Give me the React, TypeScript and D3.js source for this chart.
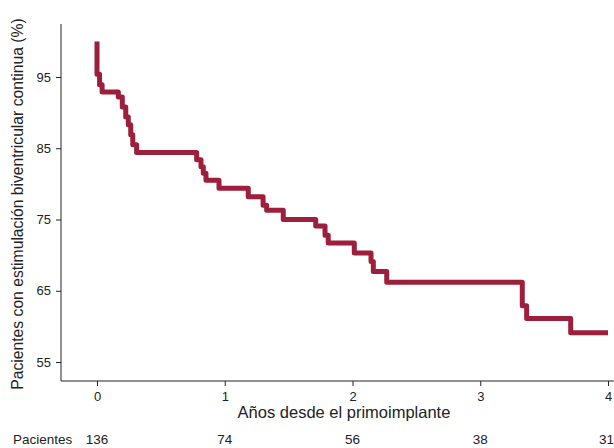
import React, { useEffect, useRef } from "react";
import * as d3 from "d3";

// Kaplan-Meier steps
const times = [0, 0, 0.02, 0.04, 0.167, 0.198, 0.225, 0.245, 0.264, 0.28, 0.31, 0.78, 0.814, 0.832, 0.853, 0.955, 1.184, 1.3, 1.328, 1.458, 1.712, 1.785, 1.81, 2.014, 2.145, 2.163, 2.268, 3.329, 3.363, 3.708, 4.0];
const survival = [100, 95.4, 93.9, 92.9, 92.2, 90.8, 89.4, 88.3, 86.9, 85.5, 84.4, 83.4, 82.4, 81.5, 80.5, 79.4, 78.2, 77.0, 76.3, 75.0, 74.1, 72.8, 71.7, 70.3, 69.1, 67.7, 66.2, 62.9, 61.1, 59.1, 59.1];

const xTicks = [0, 1, 2, 3, 4];
const yTicks = [55, 65, 75, 85, 95];
const atRisk = [136, 74, 56, 38, 31];

const App = () => {
    const svgRef = useRef<SVGSVGElement>(null);

    useEffect(() => {
        const width = 614, height = 448;
        const svg = d3.select(svgRef.current)
            .attr("width", width)
            .attr("height", height);
        svg.selectAll("*").remove();

        const font = "Liberation Sans, Arial, sans-serif";
        const x = d3.scaleLinear().domain([0, 4]).range([97, 608]);
        const y = d3.scaleLinear().domain([55, 95]).range([362, 77]);
        const axisY = 381, axisX = 61;

        // axis lines
        svg.append("line")
            .attr("x1", axisX).attr("x2", width)
            .attr("y1", axisY).attr("y2", axisY)
            .attr("stroke", "#222").attr("stroke-width", 1);
        svg.append("line")
            .attr("x1", axisX).attr("x2", axisX)
            .attr("y1", 24).attr("y2", axisY)
            .attr("stroke", "#222").attr("stroke-width", 1);

        const gx = svg.append("g")
            .attr("transform", `translate(0, ${axisY})`)
            .call(d3.axisBottom(x).tickValues(xTicks).tickSize(5).tickSizeOuter(0).tickFormat(d3.format("d")));
        gx.select(".domain").remove();
        gx.selectAll("text").attr("font-family", font).attr("font-size", 13).attr("fill", "#222").attr("dy", "0.9em");
        gx.selectAll("line").attr("stroke", "#222");

        const gy = svg.append("g")
            .attr("transform", `translate(${axisX}, 0)`)
            .call(d3.axisLeft(y).tickValues(yTicks).tickSize(5).tickSizeOuter(0));
        gy.select(".domain").remove();
        gy.selectAll("text").attr("font-family", font).attr("font-size", 13).attr("fill", "#222").attr("x", -10);
        gy.selectAll("line").attr("stroke", "#222");

        const pts = times.map((t, i) => [t, survival[i]] as [number, number]);
        const line = d3.line<[number, number]>()
            .x(d => x(d[0]))
            .y(d => y(d[1]))
            .curve(d3.curveStepAfter);

        svg.append("path")
            .attr("d", line(pts))
            .attr("fill", "none")
            .attr("stroke", "#9c1f3b")
            .attr("stroke-width", 5)
            .attr("stroke-linejoin", "round");

        svg.append("text")
            .attr("x", 344)
            .attr("y", 418)
            .attr("text-anchor", "middle")
            .attr("font-family", font)
            .attr("font-size", 16.5)
            .attr("fill", "#222")
            .text("Años desde el primoimplante");

        svg.append("text")
            .attr("transform", `translate(23, 204) rotate(-90)`)
            .attr("text-anchor", "middle")
            .attr("font-family", font)
            .attr("font-size", 15.7)
            .attr("fill", "#222")
            .text("Pacientes con estimulación biventricular continua (%)");

        svg.append("text")
            .attr("x", 13).attr("y", 444)
            .attr("font-family", font)
            .attr("font-size", 13.5)
            .attr("fill", "#222")
            .text("Pacientes");

        svg.selectAll(".risk")
            .data(atRisk)
            .enter()
            .append("text")
            .attr("class", "risk")
            .attr("x", (d, i) => x(xTicks[i]))
            .attr("y", 444)
            .attr("text-anchor", (d, i) => (i === atRisk.length - 1 ? "end" : "middle"))
            .attr("dx", (d, i) => (i === atRisk.length - 1 ? 6 : 0))
            .attr("font-family", font)
            .attr("font-size", 13.5)
            .attr("fill", "#222")
            .text(d => d);
    }, []);

    return <svg ref={svgRef} style={{ position: "absolute", left: 0, top: 0, display: "block" }}></svg>;
};

export default App;
